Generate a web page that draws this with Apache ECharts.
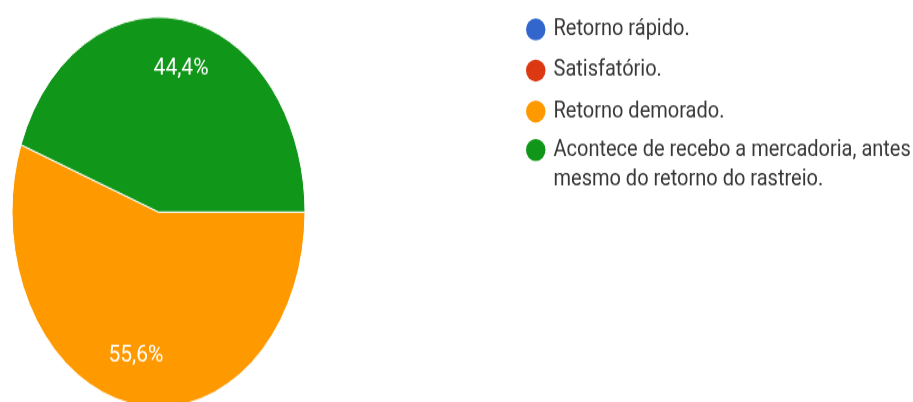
<!DOCTYPE html>
<html>
<head>
<meta charset="utf-8">
<script src="https://cdn.jsdelivr.net/npm/echarts@6/dist/echarts.min.js"></script>
<style>
  html, body { margin: 0; padding: 0; background: #ffffff; overflow: hidden; }
  #stage { position: relative; width: 913px; height: 402px; overflow: hidden; }
  /* the pie is drawn as an ellipse: its layer is stretched vertically */
  #pieLayer { position: absolute; left: 0; top: 0; width: 913px; height: 302px;
              transform: scaleY(1.331); transform-origin: 0 0; }
  /* legend and percentage labels, with a milder vertical stretch */
  #textLayer { position: absolute; left: 0; top: 0; width: 913px; height: 356px;
               transform: scaleY(1.13); transform-origin: 0 0; }
</style>
</head>
<body>
<div id="stage">
  <div id="pieLayer"></div>
  <div id="textLayer"></div>
</div>
<script>
// Answers and their shares (%)
const categories = [
  'Retorno rápido.',
  'Satisfatório.',
  'Retorno demorado.',
  'Acontece de recebo a mercadoria, antes mesmo do retorno do rastreio.'
];
const shares = [0, 0, 55.6, 44.4];

const palette = ['#3366cc', '#dc3912', '#ff9900', '#109618'];
const FONT = 'Roboto, "Liberation Sans", Arial, sans-serif';

const pieData = categories.map((name, i) => ({ name: name, value: shares[i] }));

// Filled slices
const pieChart = echarts.init(document.getElementById('pieLayer'), null, { renderer: 'canvas' });
pieChart.setOption({
  animation: false,
  color: palette,
  series: [{
    type: 'pie',
    center: [158.5, 159.3],
    radius: 146.5,
    startAngle: 0,
    clockwise: true,
    avoidLabelOverlap: false,
    label: { show: false },
    labelLine: { show: false },
    itemStyle: { borderColor: '#ffffff', borderWidth: 1 },
    emphasis: { disabled: true },
    data: pieData
  }]
});

// Percentage labels and legend (same slices, see-through, used only for text)
const textChart = echarts.init(document.getElementById('textLayer'), null, { renderer: 'canvas' });
const legendText = {
  fontFamily: FONT,
  fontSize: 20,
  color: '#383838',
  lineHeight: 22,
  padding: [0, 0, 0, 3]
};
const legendItems = names => names.map(name => ({
  name: name,
  itemStyle: { color: palette[categories.indexOf(name)], opacity: 1, borderWidth: 0 }
}));
textChart.setOption({
  animation: false,
  legend: [
    {
      orient: 'vertical',
      left: 526,
      top: 15.1,
      padding: 0,
      itemGap: 14.3,
      icon: 'circle',
      itemWidth: 19.5,
      itemHeight: 19.5,
      textStyle: legendText,
      selectedMode: false,
      data: legendItems(categories.slice(0, 3))
    },
    {
      orient: 'vertical',
      left: 526,
      top: 93,
      padding: 0,
      icon: 'circle',
      itemWidth: 19.5,
      itemHeight: 19.5,
      textStyle: Object.assign({}, legendText, { lineHeight: 26.5 }),
      selectedMode: false,
      // wrapped answer: first line sits beside the marker
      formatter: name => '\n' + name.replace(' mesmo', '\nmesmo'),
      data: legendItems(categories.slice(3))
    }
  ],
  series: [{
    type: 'pie',
    center: [158.5, 187.6],
    radius: [105.5, 146.5],
    startAngle: 0,
    clockwise: true,
    avoidLabelOverlap: false,
    itemStyle: { color: 'rgba(0,0,0,0)', borderWidth: 0 },
    labelLine: { show: false },
    emphasis: { disabled: true },
    label: {
      position: 'inside',
      fontFamily: FONT,
      fontSize: 21,
      color: '#ffffff',
      formatter: p => p.value.toFixed(1).replace('.', ',') + '%'
    },
    data: pieData.map(d => Object.assign({}, d, { label: { show: d.value > 0 } }))
  }]
});
</script>
</body>
</html>
